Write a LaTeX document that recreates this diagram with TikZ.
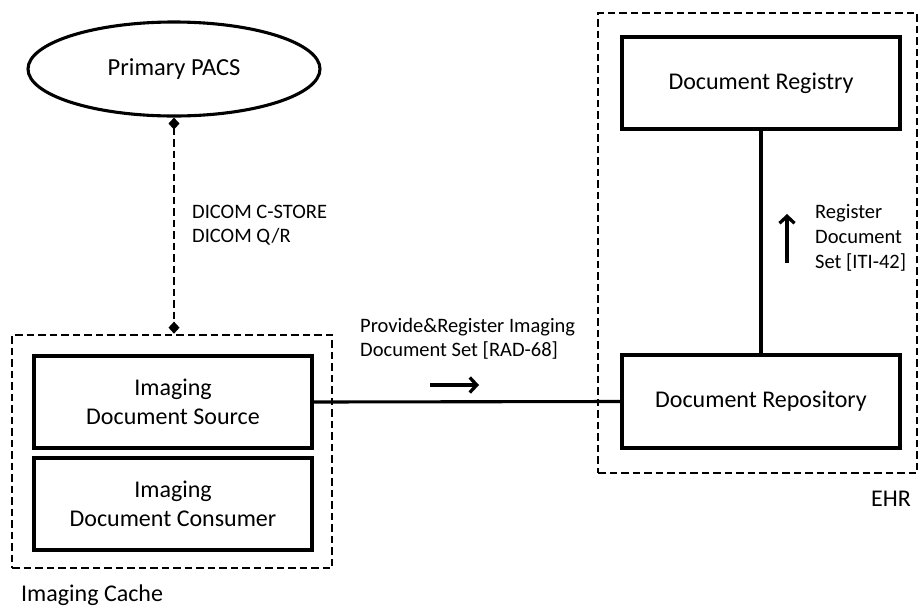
\documentclass[tikz,border=0pt]{standalone}
\usepackage{fontspec}
\setmainfont{Carlito}
\usetikzlibrary{arrows.meta,shapes.geometric}
\begin{document}
\begin{tikzpicture}[x=1pt,y=-1pt,
  actor/.style={draw, line width=3.1pt, rectangle, inner sep=0pt, align=center,
    font=\fontsize{24}{28.5}\selectfont},
  group/.style={draw, line width=2.7pt, dash pattern=on 7.5pt off 4pt, rectangle, inner sep=0pt},
  lbl/.style={align=left, inner sep=0pt, font=\fontsize{20.5}{24}\selectfont},
  outer/.style={inner sep=0pt, font=\fontsize{24}{28}\selectfont},
  link/.style={line width=3.1pt},
  flow/.style={line width=3.3pt, -{Straight Barb[length=7pt,width=15pt,line width=3.3pt]}},
  dlink/.style={line width=2.7pt, dash pattern=on 7.5pt off 4pt,
    {Diamond[length=12pt,width=11pt]}-{Diamond[length=12pt,width=11pt]}}
]
\useasboundingbox (0,0) rectangle (922,606);

% groups
\node[group, minimum width=320pt, minimum height=233pt] (cache) at (172,451.5) {};
\node[group, minimum width=319pt, minimum height=460pt] (ehr) at (757.5,243) {};

% actors
\node[draw, line width=3.1pt, ellipse, minimum width=292pt, minimum height=94pt, inner sep=0pt,
  font=\fontsize{24.5}{28}\selectfont] (pacs) at (174,69) {Primary PACS};
\node[actor, minimum width=278pt, minimum height=92pt] (src) at (173,402) {Imaging\\Document Source};
\node[actor, minimum width=278pt, minimum height=92pt] (cons) at (173,504) {Imaging\\Document Consumer};
\node[actor, minimum width=278pt, minimum height=92pt] (reg) at (761,83) {Document Registry};
\node[actor, minimum width=278pt, minimum height=93pt] (repo) at (761,401.5) {Document Repository};

% connectors
\draw[dlink] (pacs.south) -- (pacs.south |- cache.north);
\draw[link] (src.east) -- (repo.west);
\draw[link] (reg.south) -- (repo.north);

% flow arrows
\coordinate (f1a) at (430,385);
\coordinate (f1b) at (479,385);
\draw[flow] (f1a) -- (f1b);
\coordinate (f2a) at (787,263);
\coordinate (f2b) at (787,214);
\draw[flow] (f2a) -- (f2b);

% labels
\node[lbl, anchor=west] (l1) at (192,225) {DICOM C-STORE\\DICOM Q/R};
\node[lbl, anchor=west] (l2) at (360,338.5) {Provide\&Register Imaging\\Document Set [RAD-68]};
\node[lbl, anchor=west, font=\fontsize{20.5}{25}\selectfont] (l3) at (815,238) {Register\\Document\\Set [ITI-42]};
\node[outer, anchor=east] (lehr) at (911,499) {EHR};
\node[outer, anchor=west] (lcache) at (21,595) {Imaging Cache};
\end{tikzpicture}
\end{document}
